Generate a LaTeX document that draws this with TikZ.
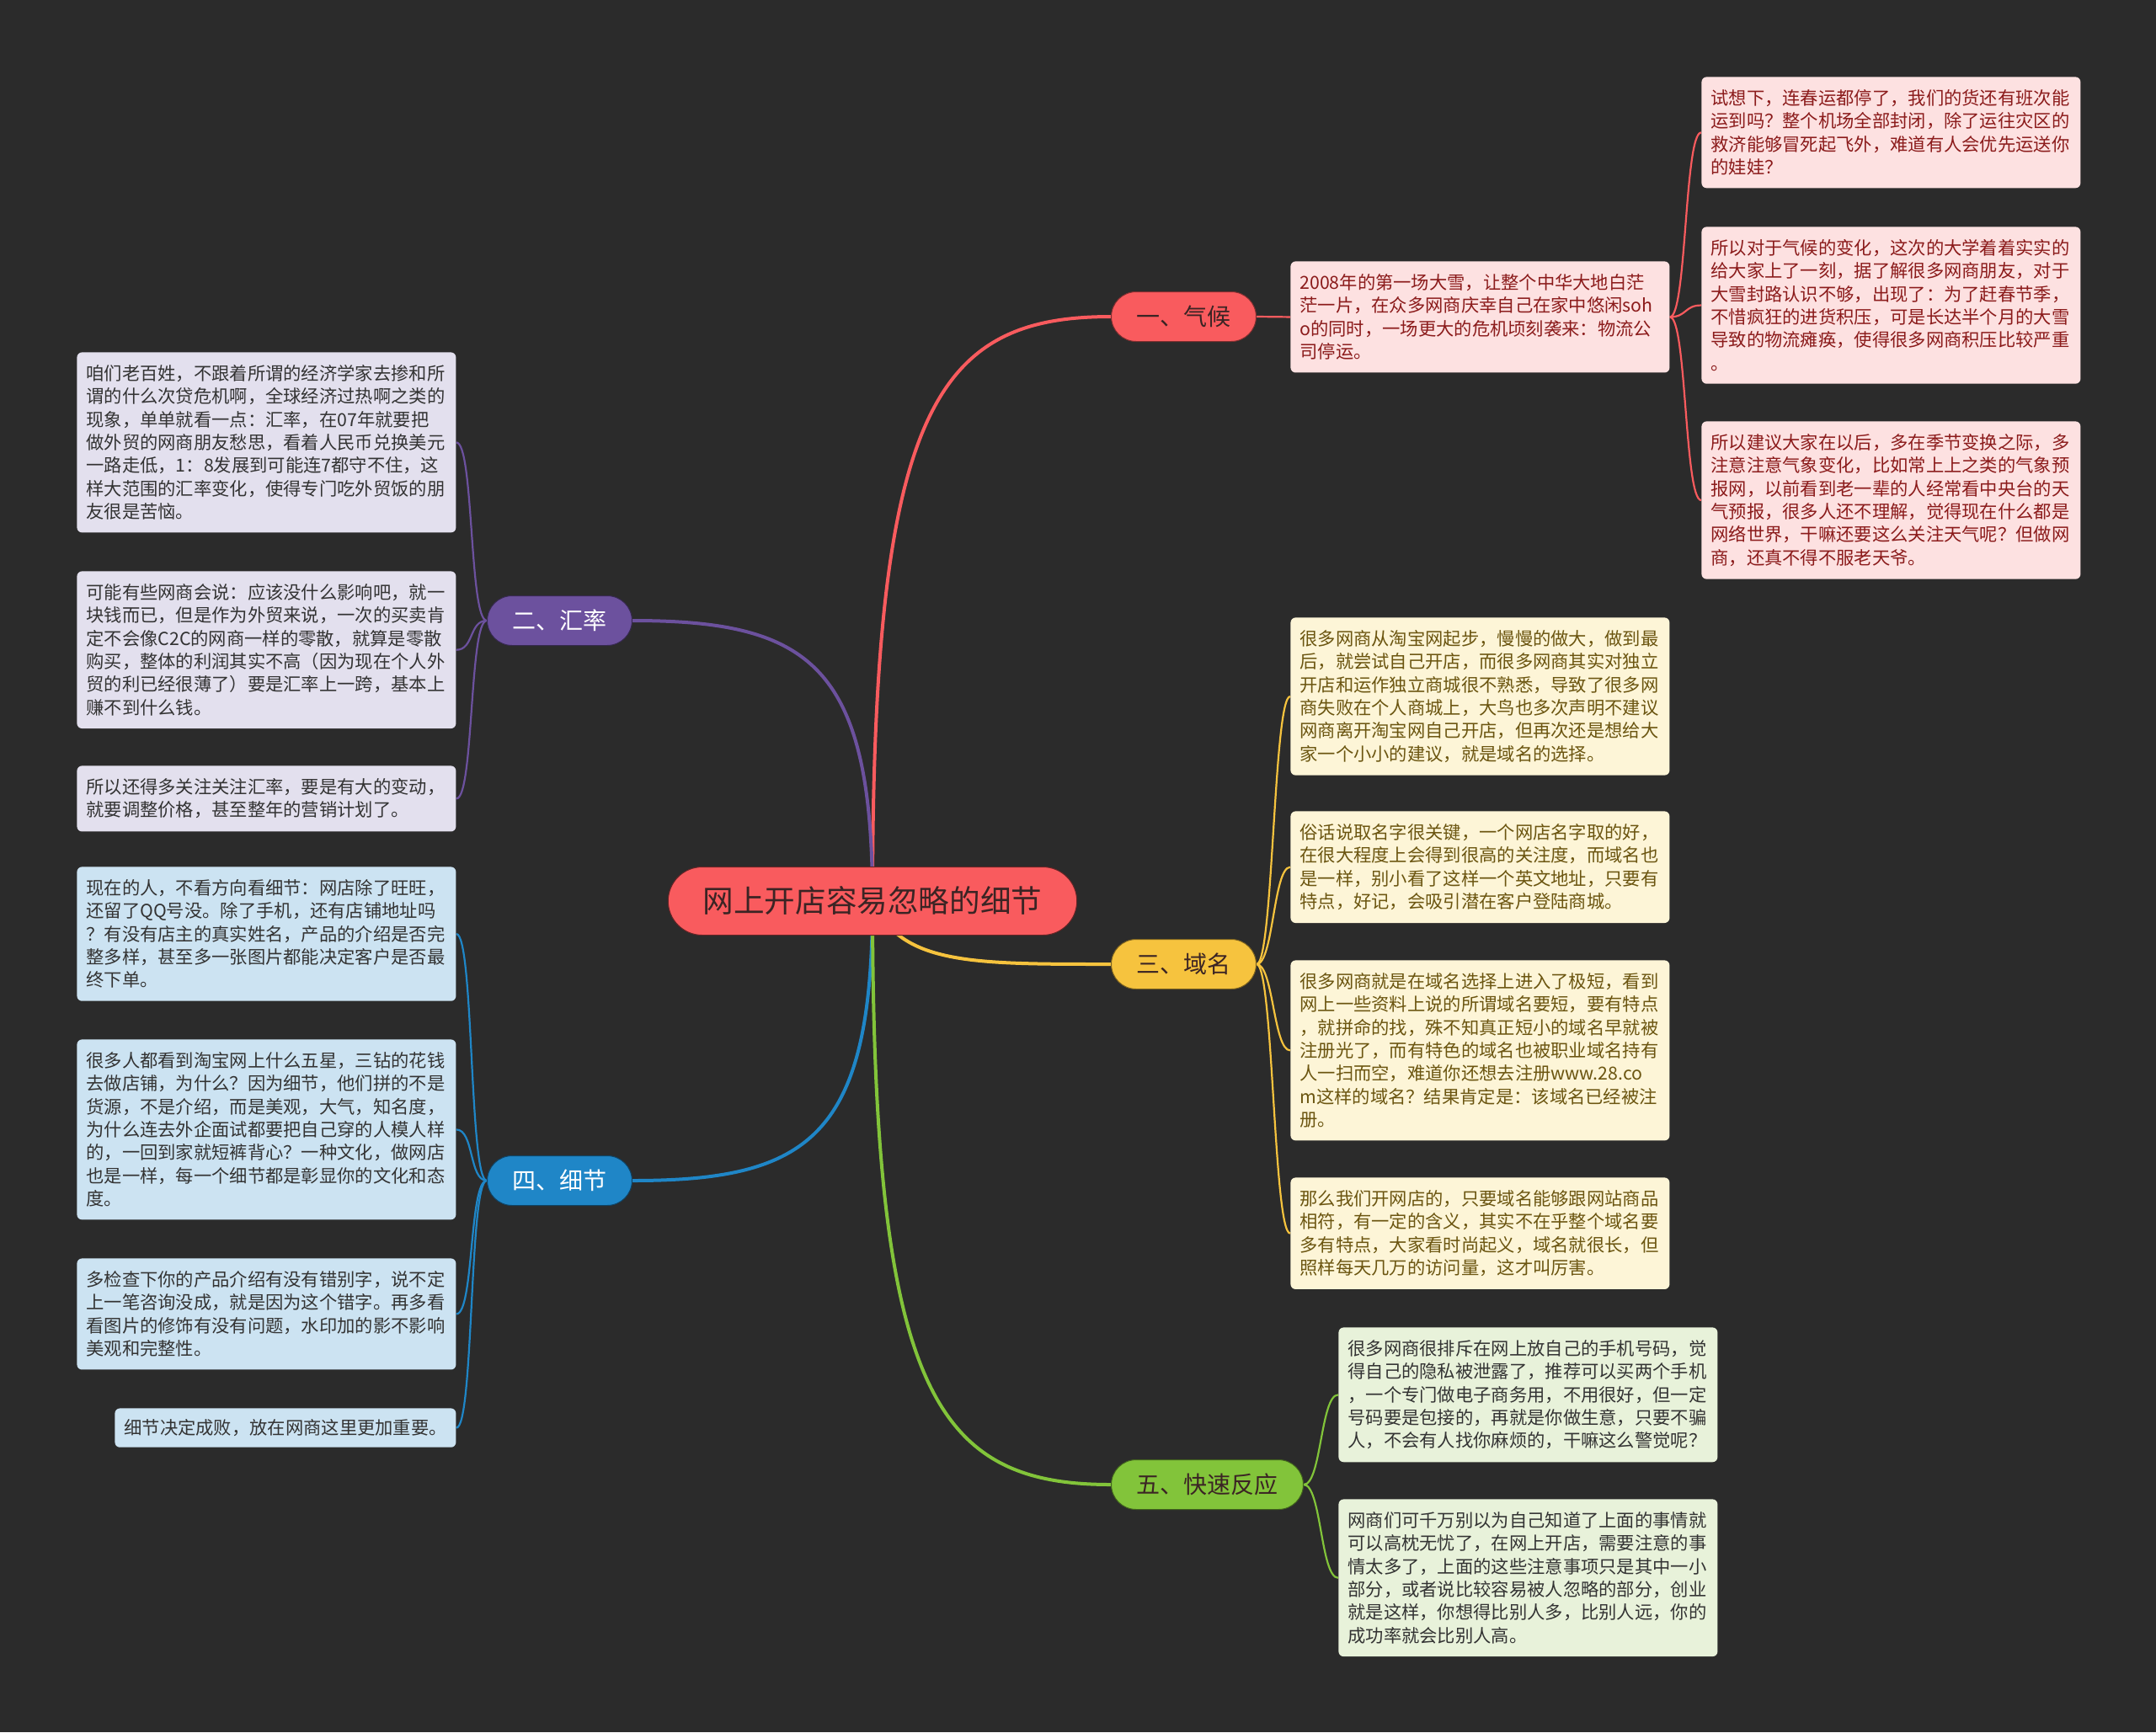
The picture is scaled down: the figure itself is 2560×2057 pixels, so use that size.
\documentclass[tikz,border=0pt]{standalone}
\usepackage{fontspec}
\setmainfont{Noto Sans CJK SC}
\pgfdeclarelayer{bg}
\pgfsetlayers{bg,main}
\definecolor{bgc}{HTML}{2B2B2B}
\definecolor{redc}{HTML}{F95B5E}
\definecolor{darkt}{HTML}{3B2424}
\definecolor{purc}{HTML}{6C519E}
\definecolor{yelc}{HTML}{F6C33E}
\definecolor{bluc}{HTML}{1F86C7}
\definecolor{grnc}{HTML}{82C43A}
\definecolor{pinkf}{HTML}{FDE1E1}
\definecolor{pinkt}{HTML}{8B1B1B}
\definecolor{lavf}{HTML}{E3E0EE}
\definecolor{creamf}{HTML}{FDF5D7}
\definecolor{creamt}{HTML}{6B5510}
\definecolor{bluef}{HTML}{CCE3F2}
\definecolor{greenf}{HTML}{E8F2DA}
\definecolor{greyt}{HTML}{333333}
\begin{document}
\begin{tikzpicture}[x=0.5pt,y=-0.5pt,
  ctrnode/.style={fill=redc,draw=black!60!redc,line width=0.5pt,text=darkt,
    font=\fontsize{18.3pt}{22pt}\selectfont,minimum height=40.5pt,
    inner xsep=20.7pt,inner ysep=0pt,rounded corners=20.25pt},
  branch/.style={draw=black!50!#1,line width=0.5pt,fill=#1,
    font=\fontsize{14pt}{17pt}\selectfont,minimum height=29.5pt,
    inner xsep=15pt,inner ysep=0pt,rounded corners=14.75pt},
  leaf/.style={rounded corners=3pt,text width=214pt,align=left,
    inner xsep=5.5pt,inner ysep=7.6pt,anchor=north west,
    font=\fontsize{10.65pt}{13.65pt}\selectfont},
  lred/.style={leaf,fill=pinkf,text=pinkt},
  lpur/.style={leaf,fill=lavf,text=greyt},
  lyel/.style={leaf,fill=creamf,text=creamt},
  lblu/.style={leaf,fill=bluef,text=greyt},
  lgrn/.style={leaf,fill=greenf,text=greyt},
  mainline/.style={line width=2pt,#1},
  leafline/.style={line width=1.1pt,#1}]
\useasboundingbox (0,0) rectangle (2560,2057);
\begin{pgfonlayer}{bg}
\fill[bgc] (0,0) rectangle (2560,2057);
\end{pgfonlayer}

% centre and branches
\node[ctrnode] (ctr) at (1036,1070) {网上开店容易忽略的细节};
\node[branch=redc,text=darkt,anchor=west] (b1) at (1319,376) {一、气候};
\node[branch=purc,text=white,anchor=east] (b2) at (751,737) {二、汇率};
\node[branch=yelc,text=darkt,anchor=west] (b3) at (1319,1145) {三、域名};
\node[branch=bluc,text=white,anchor=east] (b4) at (751,1402) {四、细节};
\node[branch=grnc,text=darkt,anchor=west] (b5) at (1319,1763) {五、快速反应};

% climate leaves
\node[lred] (c0) at (1532,310) {2008年的第一场大雪，让整个中华大地白茫\\茫一片，在众多网商庆幸自己在家中悠闲soh\\o的同时，一场更大的危机顷刻袭来：物流公\\司停运。};
\node[lred] (c1) at (2020,91) {试想下，连春运都停了，我们的货还有班次能\\运到吗？整个机场全部封闭，除了运往灾区的\\救济能够冒死起飞外，难道有人会优先运送你\\的娃娃？};
\node[lred] (c2) at (2020,269) {所以对于气候的变化，这次的大学着着实实的\\给大家上了一刻，据了解很多网商朋友，对于\\大雪封路认识不够，出现了：为了赶春节季，\\不惜疯狂的进货积压，可是长达半个月的大雪\\导致的物流瘫痪，使得很多网商积压比较严重\\。};
\node[lred] (c3) at (2020,500) {所以建议大家在以后，多在季节变换之际，多\\注意注意气象变化，比如常上上之类的气象预\\报网，以前看到老一辈的人经常看中央台的天\\气预报，很多人还不理解，觉得现在什么都是\\网络世界，干嘛还要这么关注天气呢？但做网\\商，还真不得不服老天爷。};

% exchange-rate leaves
\node[lpur] (r1) at (91,418) {咱们老百姓，不跟着所谓的经济学家去掺和所\\谓的什么次贷危机啊，全球经济过热啊之类的\\现象，单单就看一点：汇率，在07年就要把\\做外贸的网商朋友愁思，看着人民币兑换美元\\一路走低，1：8发展到可能连7都守不住，这\\样大范围的汇率变化，使得专门吃外贸饭的朋\\友很是苦恼。};
\node[lpur] (r2) at (91,678) {可能有些网商会说：应该没什么影响吧，就一\\块钱而已，但是作为外贸来说，一次的买卖肯\\定不会像C2C的网商一样的零散，就算是零散\\购买，整体的利润其实不高（因为现在个人外\\贸的利已经很薄了）要是汇率上一跨，基本上\\赚不到什么钱。};
\node[lpur] (r3) at (91,909) {所以还得多关注关注汇率，要是有大的变动，\\就要调整价格，甚至整年的营销计划了。};

% domain leaves
\node[lyel] (d1) at (1532,733) {很多网商从淘宝网起步，慢慢的做大，做到最\\后，就尝试自己开店，而很多网商其实对独立\\开店和运作独立商城很不熟悉，导致了很多网\\商失败在个人商城上，大鸟也多次声明不建议\\网商离开淘宝网自己开店，但再次还是想给大\\家一个小小的建议，就是域名的选择。};
\node[lyel] (d2) at (1532,963) {俗话说取名字很关键，一个网店名字取的好，\\在很大程度上会得到很高的关注度，而域名也\\是一样，别小看了这样一个英文地址，只要有\\特点，好记，会吸引潜在客户登陆商城。};
\node[lyel] (d3) at (1532,1140) {很多网商就是在域名选择上进入了极短，看到\\网上一些资料上说的所谓域名要短，要有特点\\，就拼命的找，殊不知真正短小的域名早就被\\注册光了，而有特色的域名也被职业域名持有\\人一扫而空，难道你还想去注册www.28.co\\m这样的域名？结果肯定是：该域名已经被注\\册。};
\node[lyel] (d4) at (1532,1398) {那么我们开网店的，只要域名能够跟网站商品\\相符，有一定的含义，其实不在乎整个域名要\\多有特点，大家看时尚起义，域名就很长，但\\照样每天几万的访问量，这才叫厉害。};

% detail leaves
\node[lblu] (t1) at (91,1029) {现在的人，不看方向看细节：网店除了旺旺，\\还留了QQ号没。除了手机，还有店铺地址吗\\？有没有店主的真实姓名，产品的介绍是否完\\整多样，甚至多一张图片都能决定客户是否最\\终下单。};
\node[lblu] (t2) at (91,1234) {很多人都看到淘宝网上什么五星，三钻的花钱\\去做店铺，为什么？因为细节，他们拼的不是\\货源，不是介绍，而是美观，大气，知名度，\\为什么连去外企面试都要把自己穿的人模人样\\的，一回到家就短裤背心？一种文化，做网店\\也是一样，每一个细节都是彰显你的文化和态\\度。};
\node[lblu] (t3) at (91,1494) {多检查下你的产品介绍有没有错别字，说不定\\上一笔咨询没成，就是因为这个错字。再多看\\看图片的修饰有没有问题，水印加的影不影响\\美观和完整性。};
\node[lblu,text width=191.5pt,inner ysep=6.5pt] (t4) at (136,1672) {细节决定成败，放在网商这里更加重要。};

% fast-response leaves
\node[lgrn] (f1) at (1589,1576) {很多网商很排斥在网上放自己的手机号码，觉\\得自己的隐私被泄露了，推荐可以买两个手机\\，一个专门做电子商务用，不用很好，但一定\\号码要是包接的，再就是你做生意，只要不骗\\人，不会有人找你麻烦的，干嘛这么警觉呢？};
\node[lgrn] (f2) at (1589,1780) {网商们可千万别以为自己知道了上面的事情就\\可以高枕无忧了，在网上开店，需要注意的事\\情太多了，上面的这些注意事项只是其中一小\\部分，或者说比较容易被人忽略的部分，创业\\就是这样，你想得比别人多，比别人远，你的\\成功率就会比别人高。};

\begin{pgfonlayer}{bg}
% centre to branches
\draw[mainline=redc] (ctr.center) .. controls +(0,-583) and +(-209,0) .. (b1.west);
\draw[mainline=purc] (ctr.center) .. controls +(0,-280) and +(211,0) .. (b2.east);
\draw[mainline=yelc] (ctr.center) .. controls +(34,75) and +(-169,0) .. (b3.west);
\draw[mainline=bluc] (ctr.center) .. controls +(0,279) and +(211,0) .. (b4.east);
\draw[mainline=grnc] (ctr.center) .. controls +(0,582) and +(-209,0) .. (b5.west);
% climate
\draw[leafline=redc] (b1.east) -- (c0.west);
\foreach \n in {c1,c2,c3}
  \draw[leafline=redc] (c0.east) .. controls +(20,0) and +(-20,0) .. (\n.west);
% exchange
\foreach \n in {r1,r2,r3}
  \draw[leafline=purc] (b2.west) .. controls +(-21,0) and +(21,0) .. (\n.east);
% domain
\foreach \n in {d1,d2,d3,d4}
  \draw[leafline=yelc] (b3.east) .. controls +(20,0) and +(-20,0) .. (\n.west);
% detail
\foreach \n in {t1,t2,t3,t4}
  \draw[leafline=bluc] (b4.west) .. controls +(-21,0) and +(21,0) .. (\n.east);
% fast
\foreach \n in {f1,f2}
  \draw[leafline=grnc] (b5.east) .. controls +(21,0) and +(-21,0) .. (\n.west);
\end{pgfonlayer}
\end{tikzpicture}
\end{document}
